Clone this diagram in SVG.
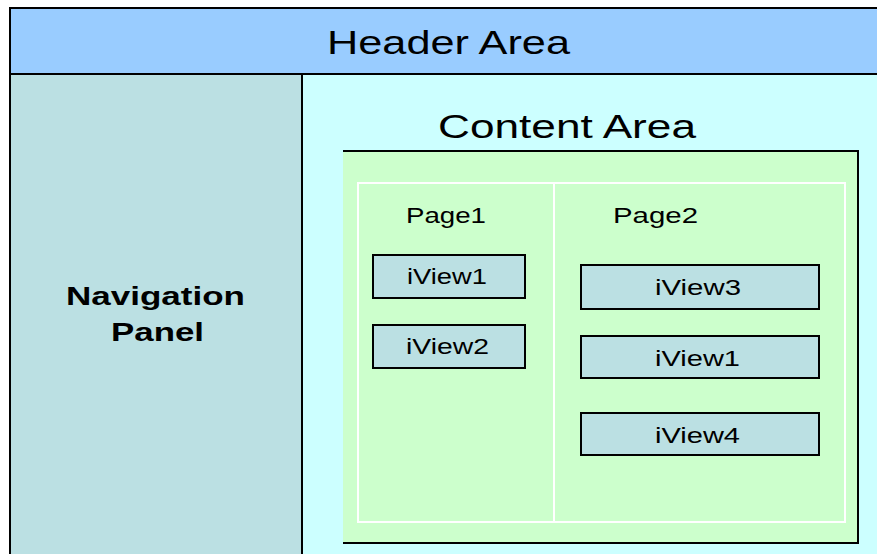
<svg xmlns="http://www.w3.org/2000/svg" width="877" height="554" viewBox="0 0 877 554">
  <style>
    .t { font-family: "Liberation Sans", Arial, sans-serif; fill: #000; }
    .big { font-size: 34px; }
    .nav { font-size: 26px; font-weight: bold; }
    .small { font-size: 22px; }
    .edge { stroke: #000; stroke-width: 2; fill: none; }
    .view rect { fill: #BBE0E3; stroke: #000; stroke-width: 2; }
  </style>
  <rect x="0" y="0" width="877" height="554" fill="#FFFFFF"/>

  <!-- header -->
  <g id="header">
    <rect x="10" y="8" width="867" height="66" fill="#99CCFF"/>
    <text class="t big" x="327" y="54" textLength="243" lengthAdjust="spacingAndGlyphs">Header Area</text>
  </g>

  <!-- navigation panel -->
  <g id="navigation">
    <rect x="10" y="74" width="292" height="480" fill="#BBE0E3"/>
    <text class="t nav" x="66" y="305" textLength="179" lengthAdjust="spacingAndGlyphs">Navigation</text>
    <text class="t nav" x="111" y="341" textLength="93" lengthAdjust="spacingAndGlyphs">Panel</text>
  </g>

  <!-- content area -->
  <g id="content">
    <rect x="302" y="74" width="575" height="480" fill="#CCFFFF"/>
    <text class="t big" x="438" y="138" textLength="258" lengthAdjust="spacingAndGlyphs">Content Area</text>
    <rect x="343" y="151" width="515" height="392" fill="#CCFFCC"/>
    <path class="edge" d="M343 151 H858 V543 H343"/>
  </g>

  <!-- page frames -->
  <g id="pages">
    <rect x="358" y="183" width="487" height="339" fill="none" stroke="#FFFFFF" stroke-width="2"/>
    <line x1="554" y1="183" x2="554" y2="522" stroke="#FFFFFF" stroke-width="2"/>
    <text class="t small" x="406" y="223" textLength="80" lengthAdjust="spacingAndGlyphs">Page1</text>
    <text class="t small" x="613" y="223" textLength="85" lengthAdjust="spacingAndGlyphs">Page2</text>
  </g>

  <g id="page1-iview1" class="view">
    <rect x="373" y="255" width="152" height="43"/>
    <text class="t small" x="407" y="284" textLength="80" lengthAdjust="spacingAndGlyphs">iView1</text>
  </g>
  <g id="page1-iview2" class="view">
    <rect x="373" y="325" width="152" height="43"/>
    <text class="t small" x="406" y="354" textLength="83" lengthAdjust="spacingAndGlyphs">iView2</text>
  </g>
  <g id="page2-iview3" class="view">
    <rect x="581" y="265" width="238" height="44"/>
    <text class="t small" x="655" y="295" textLength="86" lengthAdjust="spacingAndGlyphs">iView3</text>
  </g>
  <g id="page2-iview1" class="view">
    <rect x="581" y="336" width="238" height="42"/>
    <text class="t small" x="655" y="366" textLength="85" lengthAdjust="spacingAndGlyphs">iView1</text>
  </g>
  <g id="page2-iview4" class="view">
    <rect x="581" y="413" width="238" height="42"/>
    <text class="t small" x="655" y="443" textLength="85" lengthAdjust="spacingAndGlyphs">iView4</text>
  </g>

  <!-- frame lines -->
  <g id="connectors">
    <path class="edge" d="M10 554 V8 H877"/>
    <line class="edge" x1="10" y1="74" x2="877" y2="74"/>
    <line class="edge" x1="302" y1="74" x2="302" y2="554"/>
  </g>
</svg>
